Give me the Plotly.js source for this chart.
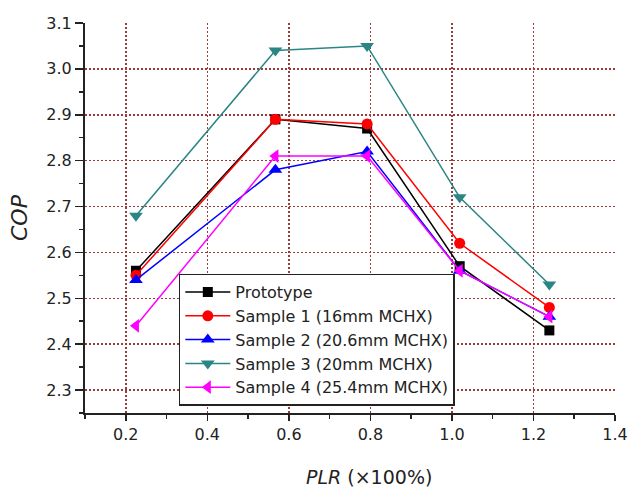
<!DOCTYPE html>
<html>
<head>
<meta charset="utf-8">
<script src="https://cdn.plot.ly/plotly-3.0.1.min.js"></script>
<style>html,body{margin:0;padding:0;background:#fff;}#chart{width:628px;height:487px;}</style>
</head>
<body>
<div id="chart"></div>
<script>
const plr = [0.225, 0.567, 0.792, 1.019, 1.239];
const seriesNames = ["Prototype", "Sample 1 (16mm MCHX)", "Sample 2 (20.6mm MCHX)", "Sample 3 (20mm MCHX)", "Sample 4 (25.4mm MCHX)"];
const prototype = [2.56, 2.89, 2.87, 2.57, 2.43];
const sample1 = [2.55, 2.89, 2.88, 2.62, 2.48];
const sample2 = [2.54, 2.78, 2.82, 2.56, 2.46];
const sample3 = [2.68, 3.04, 3.05, 2.72, 2.53];
const sample4 = [2.44, 2.81, 2.81, 2.56, 2.46];
const xTicks = [0.2, 0.4, 0.6, 0.8, 1.0, 1.2, 1.4];
const yTicks = [2.3, 2.4, 2.5, 2.6, 2.7, 2.8, 2.9, 3.0, 3.1];
const xGrid = [0.2, 0.4, 0.6, 0.8, 1.0, 1.2];
const yGrid = [2.3, 2.4, 2.5, 2.6, 2.7, 2.8, 2.9, 3.0];
const xMinor = [0.1, 0.3, 0.5, 0.7, 0.9, 1.1, 1.3];
const yMinor = [2.25, 2.35, 2.45, 2.55, 2.65, 2.75, 2.85, 2.95, 3.05];
const xRange = [0.1, 1.4];
const yRange = [2.25, 3.1];

const colors = ["#000000", "#FF0000", "#0000FF", "#2A8585", "#FF00FF"];
const symbols = ["square", "circle", "triangle-up", "triangle-down", "triangle-left"];
const sizes = [10, 11, 12, 12, 12];
const values = [prototype, sample1, sample2, sample3, sample4];

const traces = values.map((v, i) => ({
  x: plr, y: v, name: seriesNames[i], type: "scatter", mode: "lines+markers",
  line: {color: colors[i], width: 1.5},
  marker: {symbol: symbols[i], size: sizes[i], color: colors[i]}
}));

const FONT = "DejaVu Sans, Liberation Sans, Arial, sans-serif";
const TXT = "#222";
const gridColor = "#9A3A3A";
const layout = {
  width: 628, height: 487,
  margin: {l: 85, r: 13, t: 23, b: 74},
  paper_bgcolor: "#fff", plot_bgcolor: "#fff",
  font: {family: FONT, color: TXT},
  showlegend: true,
  legend: {
    x: 0.177, y: 0.019, xanchor: "left", yanchor: "bottom",
    bgcolor: "#fff", bordercolor: TXT, borderwidth: 1.5,
    font: {size: 16, color: TXT}, itemwidth: 45
  },
  xaxis: {
    range: xRange, tickvals: xTicks, ticktext: xTicks.map(v => v.toFixed(1)),
    showline: true, linecolor: TXT, linewidth: 2, mirror: false,
    ticks: "outside", ticklen: 6, tickwidth: 1.5, tickcolor: TXT,
    minor: {tickvals: xMinor, ticks: "outside", ticklen: 4, tickwidth: 1.5, tickcolor: TXT, showgrid: false},
    showgrid: false, zeroline: false,
    tickfont: {size: 16, color: TXT}
  },
  yaxis: {
    range: yRange, tickvals: yTicks, ticktext: yTicks.map(v => v.toFixed(1)),
    showline: true, linecolor: TXT, linewidth: 2, mirror: false,
    ticks: "outside", ticklen: 8, tickwidth: 1.5, tickcolor: TXT,
    minor: {tickvals: yMinor, ticks: "outside", ticklen: 4, tickwidth: 1.5, tickcolor: TXT, showgrid: false},
    showgrid: false, zeroline: false,
    tickfont: {size: 16, color: TXT},
    title: {text: "<i>COP</i>", font: {size: 22, color: TXT}, standoff: 13}
  },
  xaxis2: {
    overlaying: "x", range: xRange, tickvals: xGrid, showticklabels: false, ticks: "",
    showgrid: true, gridcolor: gridColor, griddash: "2px,2px", gridwidth: 1.5,
    zeroline: false, showline: false
  },
  yaxis2: {
    overlaying: "y", range: yRange, tickvals: yGrid, showticklabels: false, ticks: "",
    showgrid: true, gridcolor: gridColor, griddash: "2px,2px", gridwidth: 1.5,
    zeroline: false, showline: false
  },
  annotations: [{
    text: "<i>PLR</i> (×100%)", xref: "paper", yref: "paper",
    x: 0.536, y: -0.164, xanchor: "center", yanchor: "middle", showarrow: false,
    font: {size: 19, color: TXT, family: FONT}
  }]
};

// invisible trace so the grid axes are active
traces.push({x: [xRange[0]], y: [yRange[0]], xaxis: "x2", yaxis: "y2", mode: "markers",
  marker: {opacity: 0}, showlegend: false, hoverinfo: "skip", type: "scatter"});

Plotly.newPlot("chart", traces, layout, {displayModeBar: false, staticPlot: true});
</script>
</body>
</html>
